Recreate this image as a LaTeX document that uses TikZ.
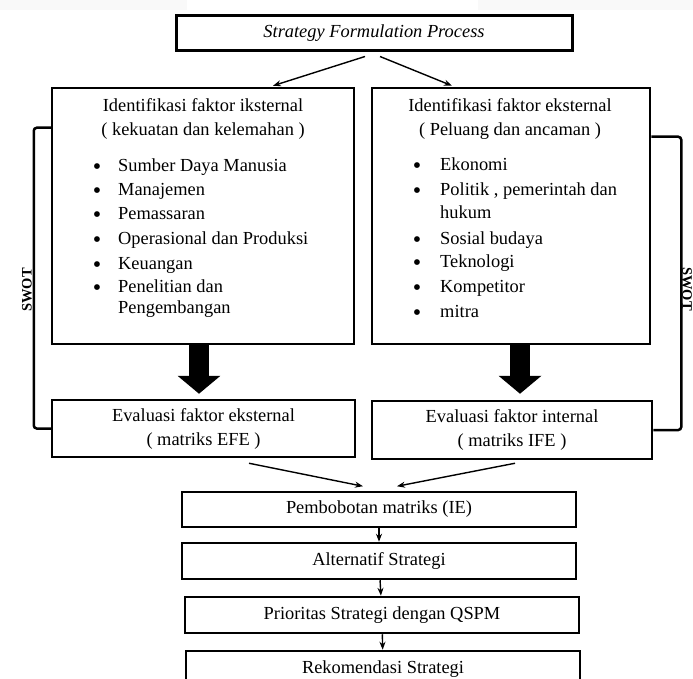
\documentclass[tikz,border=0pt]{standalone}
\usepackage{fontspec}
\setmainfont{Liberation Serif}
\usetikzlibrary{arrows.meta, positioning, calc}

\begin{document}
\begin{tikzpicture}[>={Stealth[length=8pt,width=6pt]}, x=1pt, y=-1pt,
  txt/.style={font=\fontsize{18.4}{24}\selectfont},
  box/.style={draw, line width=2.5pt, inner sep=0pt, txt, align=center},
  entry/.style={txt, anchor=mid west, inner sep=0pt},
  dot/.style={font=\fontsize{24}{24}\selectfont, anchor=center, inner sep=0pt},
  link/.style={->, line width=1.4pt},
  bigarrow/.style={line width=20pt, -{Triangle[width=42pt,length=18pt]}},
  bracket/.style={line width=2.5pt, rounded corners=3pt},
  swot/.style={font=\fontsize{14.5}{16}\selectfont\bfseries, inner sep=0pt}]
  \useasboundingbox (0,0) rectangle (693,679);
  \clip (0,0) rectangle (693,679);
  \fill[gray!5] (0,0) rectangle (187,10);
  \fill[gray!5] (478,0) rectangle (693,10);

  % top box
  \node[box, line width=3pt, minimum width=396pt, minimum height=35pt] (formation) at (374,33.5) {\itshape Strategy Formulation Process};

  % factor boxes
  \node[box, minimum width=302pt, minimum height=256pt] (intern) at (203,216) {};
  \node[box, minimum width=278pt, minimum height=256pt] (extern) at (511,216) {};
  \node[txt, align=center] (internhead) at (203,119) {Identifikasi faktor iksternal\\( kekuatan dan kelemahan )};
  \node[txt, align=center] (externhead) at (510,119) {Identifikasi faktor eksternal\\( Peluang dan ancaman )};

  \foreach \y/\lbl [count=\i] in {169/Sumber Daya Manusia, 193/Manajemen, 217/Pemassaran,
      242/Operasional dan Produksi, 267/Keuangan, 290/Penelitian dan} {
    \node[dot] (ldot\i) at (97,\y) {\textbullet};
    \node[entry] (litem\i) at (118,\y) {\lbl};
  }
  \node[entry] (litem7) at (118,311) {Pengembangan};

  \foreach \y/\lbl [count=\i] in {168/Ekonomi, 193/{Politik , pemerintah dan}, 242/Sosial budaya,
      265/Teknologi, 290/Kompetitor, 315/mitra} {
    \node[dot] (rdot\i) at (417,\y) {\textbullet};
    \node[entry] (ritem\i) at (440,\y) {\lbl};
  }
  \node[entry] (ritem7) at (440,216) {hukum};

  % evaluation boxes
  \node[box, minimum width=303pt, minimum height=57pt] (efe) at (203.5,428.5) {Evaluasi faktor eksternal\\( matriks EFE )};
  \node[box, minimum width=280pt, minimum height=58pt] (ife) at (512,430) {Evaluasi faktor internal\\( matriks IFE )};

  % strategy chain
  \node[box, minimum width=394pt, minimum height=35pt] (ie) at (379,509.5) {Pembobotan matriks (IE)};
  \node[box, minimum width=394pt, minimum height=36pt] (alt) at (379,561) {Alternatif Strategi};
  \node[box, minimum width=394pt, minimum height=36pt] (qspm) at (382,615) {Prioritas Strategi dengan QSPM};
  \node[box, minimum width=394pt, minimum height=36pt] (rekom) at (383,669) {Rekomendasi Strategi};

  % SWOT brackets
  \draw[bracket] ([yshift=-41pt]intern.north west) -- ++(-17,0) |- (efe.west);
  \draw[bracket] ([yshift=-50pt]extern.north east) -- ++(30,0) |- (ife.east);
  \node[swot, rotate=90] (swotleft) at (27,290) {SWOT};
  \node[swot, rotate=-90] (swotright) at (687,289) {SWOT};

  % connectors
  \draw[link] ($(formation.south)+(-9,4)$) -- ($(intern.north)+(70,-1)$);
  \draw[link] ($(formation.south)+(6,4)$) -- ($(extern.north)+(-59,-1)$);
  \draw[bigarrow] ($(intern.south)+(-4,0)$) -- ($(efe.north)+(-4.5,-5)$);
  \draw[bigarrow] ($(extern.south)+(9,0)$) -- ($(ife.north)+(8,-6)$);
  \draw[link] ($(efe.south)+(45.5,5)$) -- ($(ie.north)+(-16,-4.5)$);
  \draw[link] ($(ife.south)+(3,3)$) -- ($(ie.north)+(18,-4.5)$);
  \draw[link] (ie) -- (alt);
  \draw[link] (alt) -- (qspm);
  \draw[link] (qspm) -- (rekom);
\end{tikzpicture}
\end{document}
